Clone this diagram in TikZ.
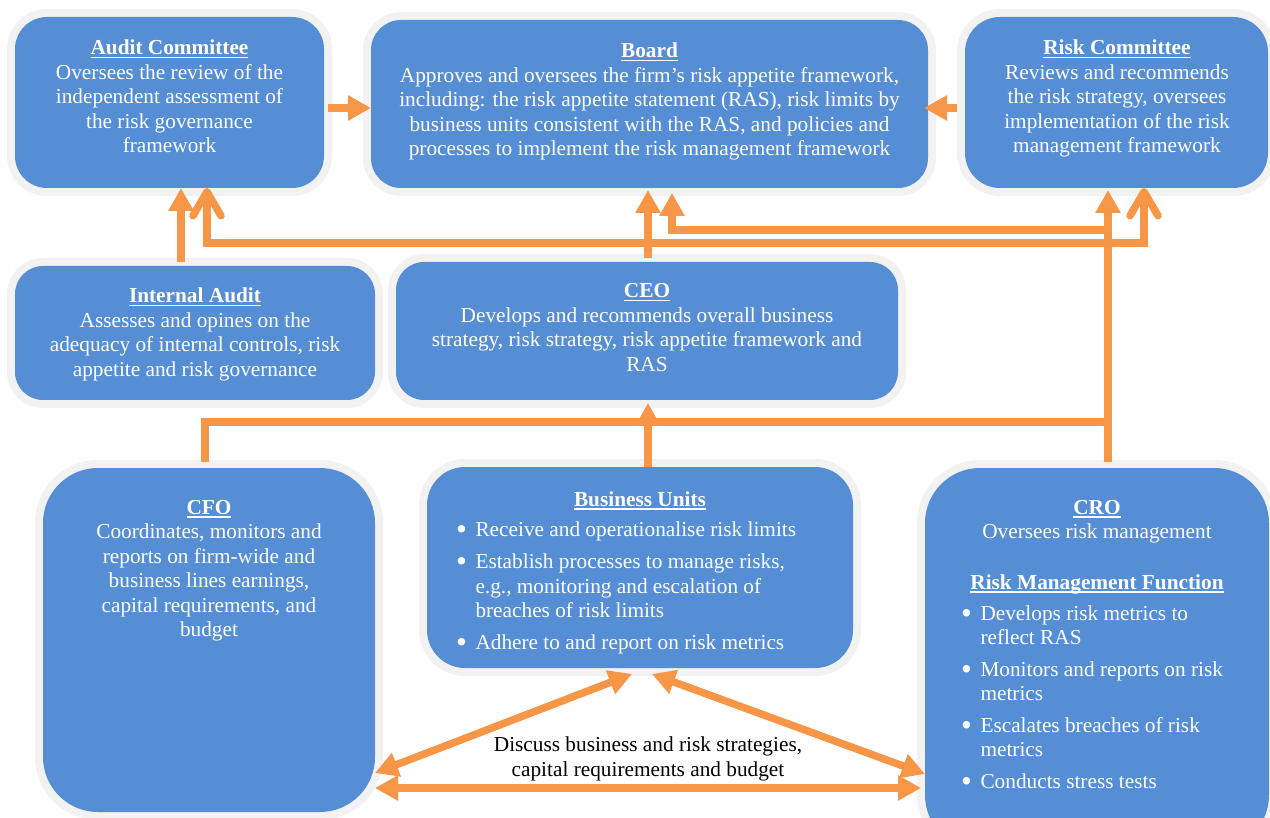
\documentclass[tikz,border=0pt]{standalone}
\usepackage{fontspec}
\setmainfont{Liberation Serif}
\usetikzlibrary{arrows.meta,calc}
\definecolor{boxblue}{RGB}{85,142,213}
\definecolor{ringgray}{RGB}{242,242,242}
\definecolor{arrorange}{RGB}{247,150,70}
\newcommand\ttl[1]{\setbox0\hbox{\bfseries #1}\rlap{\rule[-3.5pt]{\wd0}{1.6pt}}\box0}
\newcommand\bul{\makebox[17.5pt][l]{\hspace{-2pt}\raisebox{-3pt}{\fontsize{31}{31}\selectfont\textbullet}}}
\begin{document}
\begin{tikzpicture}[x=1pt,y=-1pt,
  box/.style={rectangle, inner sep=0pt, outer sep=0pt, fill=boxblue,
    preaction={draw=ringgray, line width=16pt}},
  txt/.style={inner sep=0pt, outer sep=0pt, text=white, font=\fontsize{21.3}{24.5}\selectfont},
  ltxt/.style={inner sep=0pt, outer sep=0pt, text=black, font=\fontsize{21.3}{24.5}\selectfont},
  conn/.style={draw=arrorange, line width=7.5pt},
  arr/.style={conn, -{Triangle[length=23pt,width=24pt]}},
  dbl/.style={conn, {Triangle[length=23pt,width=24pt]}-{Triangle[length=23pt,width=24pt]}},
  barb/.style={conn, {Straight Barb[length=24pt,width=28pt,round]}-{Straight Barb[length=24pt,width=28pt,round]}}]
\useasboundingbox (0,0) rectangle (1270,818);
\clip (0,0) rectangle (1270,818);

% boxes
\node[box, minimum width=309pt, minimum height=171pt, rounded corners=32pt] (ac) at (169.5,102.5) {};
\node[box, minimum width=557pt, minimum height=168pt, rounded corners=30pt] (board) at (649.5,104) {};
\node[box, minimum width=303pt, minimum height=171pt, rounded corners=35pt] (rc) at (1116.5,102.5) {};
\node[box, minimum width=360pt, minimum height=134pt, rounded corners=28pt] (ia) at (195,333) {};
\node[box, minimum width=502pt, minimum height=138pt, rounded corners=28pt] (ceo) at (647,331) {};
\node[box, minimum width=332pt, minimum height=344pt, rounded corners=55pt] (cfo) at (209,640) {};
\node[box, minimum width=426pt, minimum height=201pt, rounded corners=38pt] (bu) at (640,567.5) {};
\node[box, minimum width=344pt, minimum height=382pt, rounded corners=55pt] (cro) at (1097,659) {};

% texts
\node[txt, anchor=base] (ac-t) at (169.5,55) {\begin{tabular}[t]{@{}c@{}}\ttl{Audit Committee}\\ Oversees the review of the\\ independent assessment of\\ the risk governance\\ framework\end{tabular}};
\node[txt, anchor=base] (board-t) at (649.5,58) {\begin{tabular}[t]{@{}c@{}}\ttl{Board}\\ Approves and oversees the firm’s risk appetite framework,\\ including: the risk appetite statement (RAS), risk limits by\\ business units consistent with the RAS, and policies and\\ processes to implement the risk management framework\end{tabular}};
\node[txt, anchor=base] (rc-t) at (1117,55) {\begin{tabular}[t]{@{}c@{}}\ttl{Risk Committee}\\ Reviews and recommends\\ the risk strategy, oversees\\ implementation of the risk\\ management framework\end{tabular}};
\node[txt, anchor=base] (ia-t) at (195,303) {\begin{tabular}[t]{@{}c@{}}\ttl{Internal Audit}\\ Assesses and opines on the\\ adequacy of internal controls, risk\\ appetite and risk governance\end{tabular}};
\node[txt, anchor=base] (ceo-t) at (647,298) {\begin{tabular}[t]{@{}c@{}}\ttl{CEO}\\ Develops and recommends overall business\\ strategy, risk strategy, risk appetite framework and\\ RAS\end{tabular}};
\node[txt, anchor=base] (cfo-t) at (209,514) {\begin{tabular}[t]{@{}c@{}}\ttl{CFO}\\ Coordinates, monitors and\\ reports on firm-wide and\\ business lines earnings,\\ capital requirements, and\\ budget\end{tabular}};
\node[txt, anchor=base] (bu-t) at (640,506) {\ttl{Business Units}};
\node[txt, anchor=base west] (bu-b) at (458,536.7) {\begin{tabular}[t]{@{}l@{}l@{}}\bul & Receive and operationalise risk limits\\[7.5pt]
\bul & Establish processes to manage risks,\\
 & e.g., monitoring and escalation of\\
 & breaches of risk limits\\[7.5pt]
\bul & Adhere to and report on risk metrics\end{tabular}};
\node[txt, anchor=base] (cro-t) at (1097,514.3) {\begin{tabular}[t]{@{}c@{}}\ttl{CRO}\\ Oversees risk management\\[26pt] \ttl{Risk Management Function}\end{tabular}};
\node[txt, anchor=base west] (cro-b) at (963,620) {\begin{tabular}[t]{@{}l@{}l@{}}\bul & Develops risk metrics to\\
 & reflect RAS\\[7pt]
\bul & Monitors and reports on risk\\
 & metrics\\[7pt]
\bul & Escalates breaches of risk\\
 & metrics\\[7pt]
\bul & Conducts stress tests\end{tabular}};
\node[ltxt, anchor=base] (disc) at (648,751.7) {\begin{tabular}[t]{@{}c@{}}Discuss business and risk strategies,\\ capital requirements and budget\end{tabular}};

% junctions
\coordinate (j1) at (1108,230);
\coordinate (j2) at (1108,422);

% connectors
\draw[arr] ($(ac.east |- 0,108)+(4,0)$) -- (board.west |- 0,108);
\draw[arr] ($(rc.west |- 0,108)+(-8,0)$) -- ($(board.east |- 0,108)+(-4,0)$);
\draw[arr] ($(ia.north -| 181,0)+(0,-4)$) -- (ac.south -| 181,0);
\draw[barb] (ac.south -| 207,0) |- (1144,243) -- (rc.south -| 1144,0);
\draw[arr] ($(ceo.north -| 648,0)+(0,-4)$) -- ($(board.south -| 648,0)+(0,2)$);
\draw[arr] ($(cro.north -| 1108,0)+(0,-6)$) -- ($(rc.south -| 1108,0)+(0,2)$);
\draw[arr] (j1) -| ($(board.south -| 672,0)+(0,5)$);
\draw[conn] ($(cfo.north -| 205,0)+(0,-6)$) |- (j2);
\draw[arr] (bu.north -| 648,0) -- ($(ceo.south -| 648,0)+(0,3)$);
\draw[dbl] ($(bu.south -| 632,0)+(0,6)$) -- (cfo.east |- 0,773);
\draw[dbl] ($(bu.south -| 652,0)+(0,6)$) -- (cro.west |- 0,774);
\draw[dbl] (cfo.east |- 0,788) -- ($(cro.west |- 0,788)+(-4,0)$);
\end{tikzpicture}
\end{document}
